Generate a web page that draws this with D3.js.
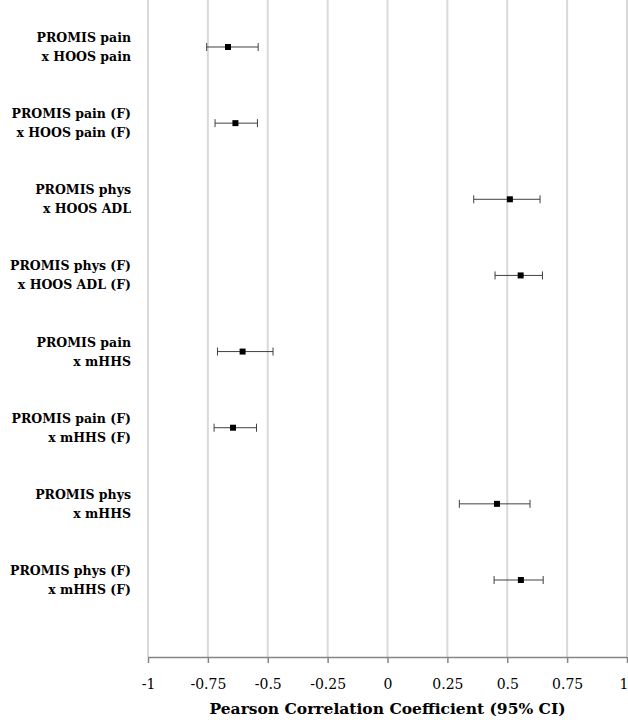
<!DOCTYPE html>
<html>
<head>
<meta charset="utf-8">
<script src="https://cdn.jsdelivr.net/npm/d3@7"></script>
<style>
  body { margin: 0; background: #fff; }
  svg { display: block; }
</style>
</head>
<body>
<div id="chart"></div>
<script>
// two-line row labels
const categories = [
  "PROMIS pain|x HOOS pain",
  "PROMIS pain (F)|x HOOS pain (F)",
  "PROMIS phys|x HOOS ADL",
  "PROMIS phys (F)|x HOOS ADL (F)",
  "PROMIS pain|x mHHS",
  "PROMIS pain (F)|x mHHS (F)",
  "PROMIS phys|x mHHS",
  "PROMIS phys (F)|x mHHS (F)"
];
const rValues = [-0.666, -0.635, 0.511, 0.556, -0.605, -0.645, 0.457, 0.557];
const ciLow = [-0.755, -0.72, 0.36, 0.449, -0.71, -0.724, 0.30, 0.445];
const ciHigh = [-0.54, -0.543, 0.637, 0.647, -0.478, -0.547, 0.595, 0.65];
const xTicks = [-1, -0.75, -0.5, -0.25, 0, 0.25, 0.5, 0.75, 1];

const width = 628, height = 720;
const plotLeft = 148, plotRight = 627, plotTop = 0, plotBottom = 657;

const svg = d3.select("#chart").append("svg")
  .attr("width", width).attr("height", height);

const x = d3.scaleLinear().domain([-1, 1]).range([plotLeft, plotRight]);
const y = d3.scalePoint().domain(categories).range([47, 580]);

// vertical gridlines
svg.append("g")
  .selectAll("line")
  .data(xTicks)
  .enter().append("line")
  .attr("x1", d => x(d)).attr("x2", d => x(d))
  .attr("y1", plotTop).attr("y2", plotBottom)
  .attr("stroke", "#d9d9d9")
  .attr("stroke-width", 2);

// x axis
const axis = d3.axisBottom(x)
  .tickValues(xTicks)
  .tickSize(6)
  .tickSizeOuter(0)
  .tickFormat(d => String(d));

const gx = svg.append("g")
  .attr("transform", `translate(0,${plotBottom})`)
  .call(axis);
gx.select(".domain").attr("stroke", "#868686").attr("stroke-width", 1.5);
gx.selectAll(".tick line").attr("stroke", "#868686").attr("stroke-width", 1.5);
gx.selectAll(".tick text")
  .attr("y", 22)
  .attr("fill", "#000")
  .style("font-family", "DejaVu Serif")
  .style("font-size", "14px");
// last label sits at the right edge, keep it inside
gx.selectAll(".tick text").filter(d => d === 1)
  .attr("text-anchor", "end").attr("dx", 1);

svg.append("text")
  .attr("x", x(0))
  .attr("y", 714)
  .attr("text-anchor", "middle")
  .style("font-family", "DejaVu Serif")
  .style("font-weight", "bold")
  .style("font-size", "15.5px")
  .text("Pearson Correlation Coefficient (95% CI)");

// row labels
const labels = svg.append("g")
  .selectAll("text")
  .data(categories)
  .enter().append("text")
  .attr("text-anchor", "end")
  .style("font-family", "DejaVu Serif")
  .style("font-weight", "bold")
  .style("font-size", "12.5px")
  .attr("fill", "#000");
labels.each(function(d) {
  const lines = d.split("|");
  const t = d3.select(this);
  lines.forEach((line, i) => {
    t.append("tspan")
      .attr("x", 131)
      .attr("y", y(d) - 5 + i * 19)
      .text(line);
  });
});

// error bars
const rows = categories.map((c, i) => ({ c, r: rValues[i], lo: ciLow[i], hi: ciHigh[i] }));
const bars = svg.append("g").selectAll("g").data(rows).enter().append("g");
bars.append("line")
  .attr("x1", d => x(d.lo)).attr("x2", d => x(d.hi))
  .attr("y1", d => y(d.c)).attr("y2", d => y(d.c))
  .attr("stroke", "#404040").attr("stroke-width", 1);
bars.selectAll(".cap")
  .data(d => [d.lo, d.hi].map(v => ({ v, c: d.c })))
  .enter().append("line")
  .attr("x1", d => x(d.v)).attr("x2", d => x(d.v))
  .attr("y1", d => y(d.c) - 4).attr("y2", d => y(d.c) + 4)
  .attr("stroke", "#404040").attr("stroke-width", 1);
bars.append("rect")
  .attr("x", d => x(d.r) - 3).attr("y", d => y(d.c) - 3)
  .attr("width", 6).attr("height", 6)
  .attr("fill", "#000");
</script>
</body>
</html>
